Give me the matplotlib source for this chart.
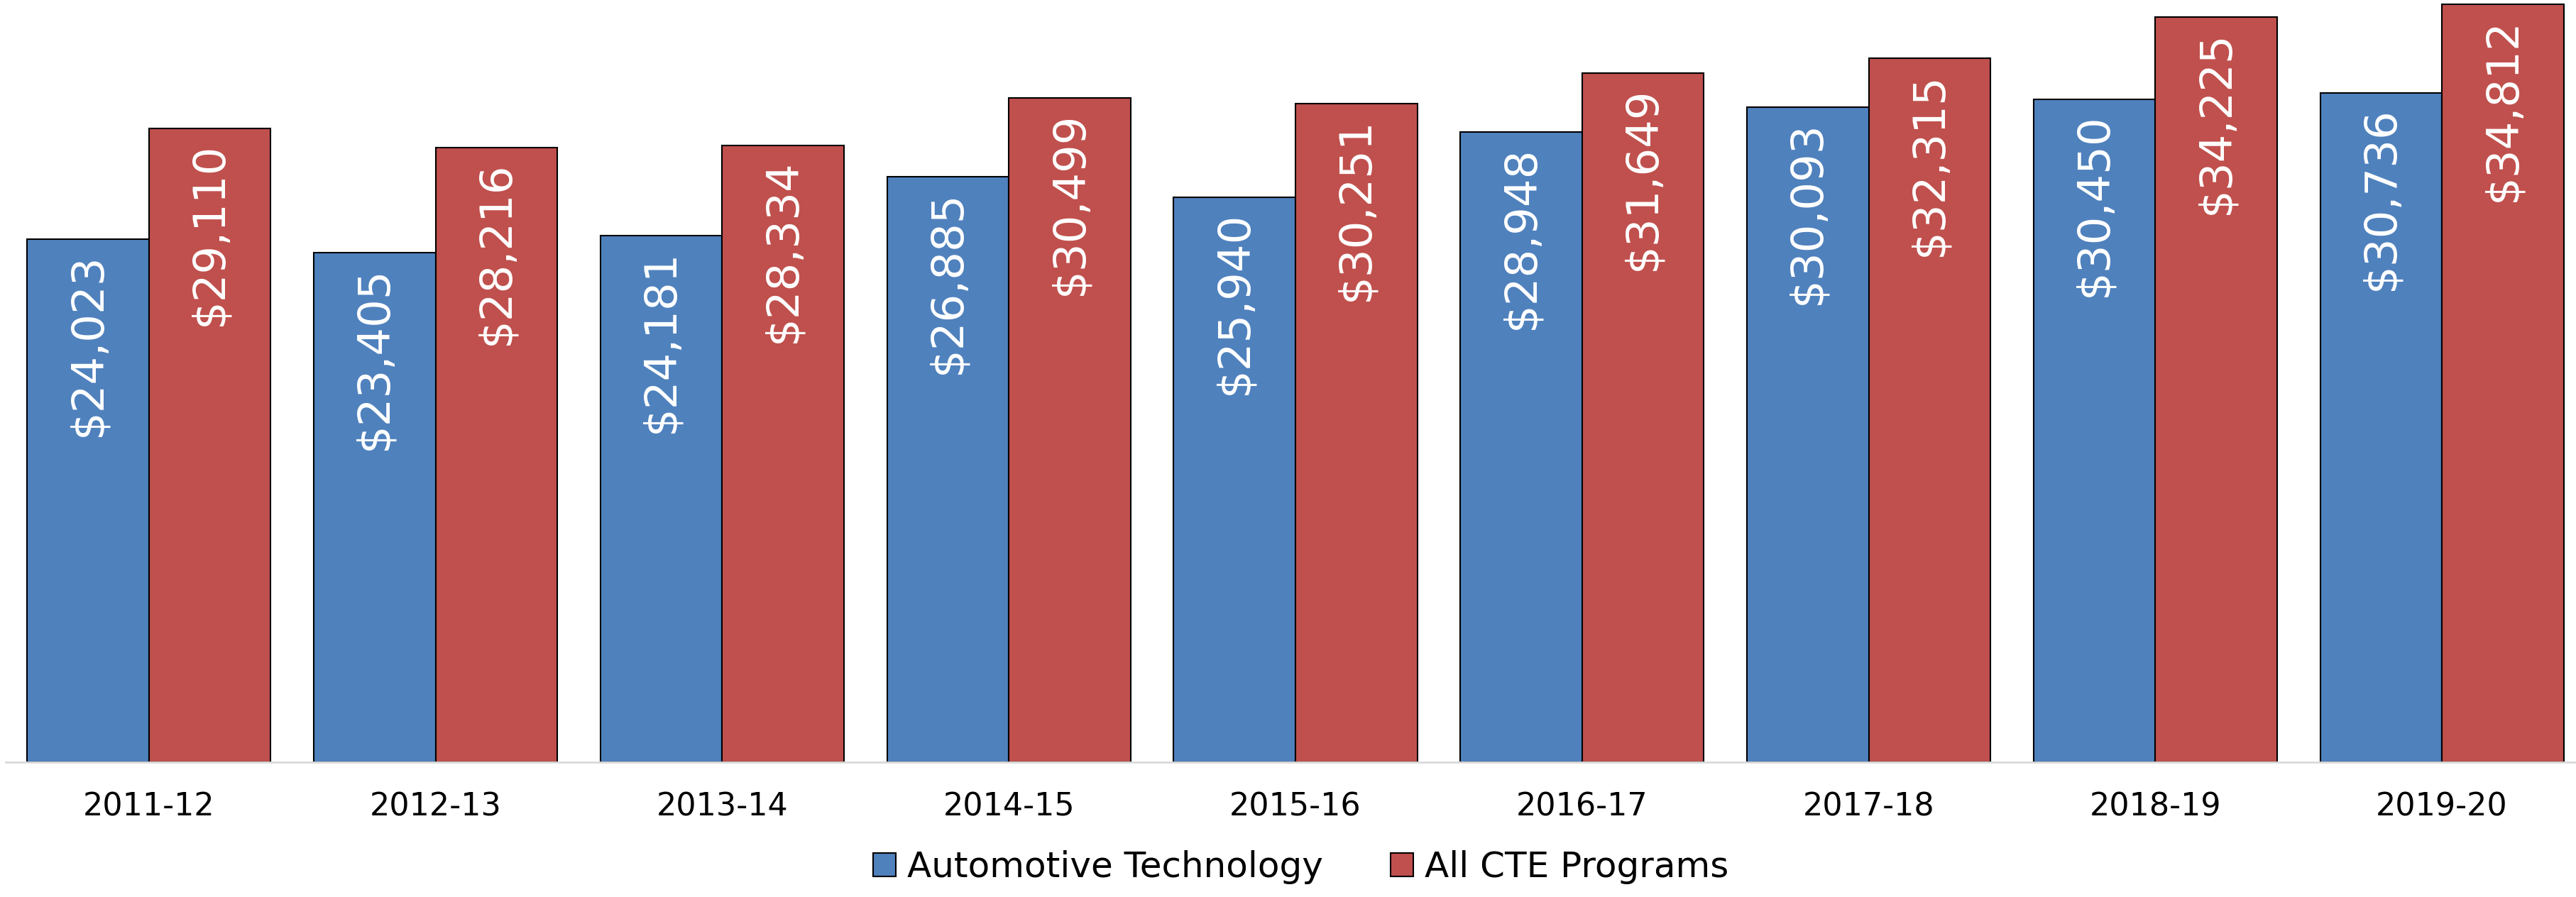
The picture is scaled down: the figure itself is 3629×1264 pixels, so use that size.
import numpy as np
import matplotlib
matplotlib.use("Agg")
import matplotlib.pyplot as plt

# Data
years = ["2011-12", "2012-13", "2013-14", "2014-15", "2015-16",
         "2016-17", "2017-18", "2018-19", "2019-20"]
auto_tech = [24023, 23405, 24181, 26885, 25940, 28948, 30093, 30450, 30736]
all_cte = [29110, 28216, 28334, 30499, 30251, 31649, 32315, 34225, 34812]

blue = "#4F81BD"
red = "#C0504D"

plt.rcParams['font.family'] = ['DejaVu Sans']

fig = plt.figure(figsize=(36.3, 12.64), dpi=100)
ax = fig.add_axes([8/3630, 190/1264, 3634/3630, 1074/1264])

x = np.arange(len(years))
w = 0.425
b1 = ax.bar(x - w/2, auto_tech, w, color=blue, edgecolor="black", linewidth=1.5,
            label="Automotive Technology")
b2 = ax.bar(x + w/2, all_cte, w, color=red, edgecolor="black", linewidth=1.5,
            label="All CTE Programs")

# value labels inside the top of each bar
for bars, vals in [(b1, auto_tech), (b2, all_cte)]:
    for rect, v in zip(bars, vals):
        ax.annotate(f"${v:,}", (rect.get_x() + rect.get_width()/2, v),
                    xytext=(0, -14), textcoords="offset points",
                    ha="center", va="top", rotation=90,
                    color="white", fontsize=45)

ax.set_xlim(-0.5, len(years) - 0.5)
ax.set_ylim(0, 35000)
ax.set_xticks(x)
ax.set_xticklabels(years, fontsize=32)
ax.tick_params(axis="x", length=0, pad=30)
ax.set_yticks([])
for s in ["top", "right", "left"]:
    ax.spines[s].set_visible(False)
ax.spines["bottom"].set_color("#D9D9D9")
ax.spines["bottom"].set_linewidth(2)

fig.legend(handles=[b1, b2], loc="center", bbox_to_anchor=(1833/3630, 42/1264),
           ncol=2, frameon=False, fontsize=36, handlelength=0.64,
           handleheight=0.64, handletextpad=0.32, columnspacing=1.9)

fig.savefig("out.png", dpi=100)
